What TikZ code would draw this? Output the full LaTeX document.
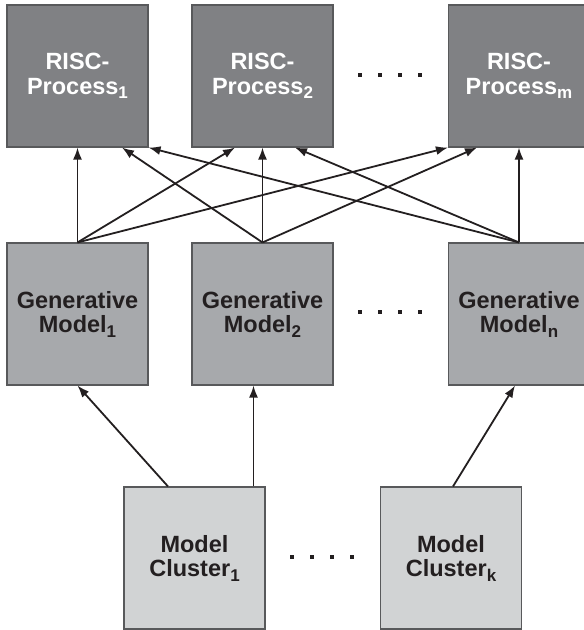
\documentclass[tikz,border=0pt]{standalone}
\usepackage{fontspec}
\setmainfont{Liberation Sans}
\usetikzlibrary{arrows.meta,calc}
\definecolor{riscfill}{HTML}{808184}
\definecolor{genfill}{HTML}{A7A9AC}
\definecolor{clufill}{HTML}{D1D3D4}
\definecolor{boxline}{HTML}{58595B}
\definecolor{ink}{HTML}{231F20}
\newcommand\sbs[1]{\raisebox{-4.5pt}{\fontsize{17}{17}\selectfont #1}}
\tikzset{
  box/.style={draw=boxline, line width=1.1pt, minimum width=141pt, minimum height=142pt,
    inner sep=0pt, align=center, font=\fontsize{23.5}{24.5}\selectfont\bfseries},
  riscbox/.style={box, fill=riscfill, text=white},
  genbox/.style={box, fill=genfill, text=ink},
  clubox/.style={box, fill=clufill, text=ink},
  arr/.style={draw=ink, line width=1.8pt, -{Latex[length=12pt,width=9pt]}},
  dotsq/.style={fill=ink, minimum size=4pt, inner sep=0pt}
}
\begin{document}
\begin{tikzpicture}[x=1pt,y=-1pt]
\useasboundingbox (0,0) rectangle (584,630);
\clip (0,0) rectangle (584,630);
\fill[white] (0,0) rectangle (584,630);
% top row
\node[riscbox] (r1) at (77.5,76) {RISC-\\Process\sbs{1}};
\node[riscbox] (r2) at (262.5,76) {RISC-\\Process\sbs{2}};
\node[riscbox] (rm) at (519,76) {RISC-\\Process\sbs{m}};
% middle row
\node[genbox] (g1) at (77.5,314) {Generative\\Model\sbs{1}};
\node[genbox] (g2) at (262.5,314) {Generative\\Model\sbs{2}};
\node[genbox] (gn) at (519,314) {Generative\\Model\sbs{n}};
% bottom row
\node[clubox] (c1) at (194.5,558) {Model\\Cluster\sbs{1}};
\node[clubox] (ck) at (451,558) {Model\\Cluster\sbs{k}};
% dots
\foreach \i/\x in {1/360,2/380,3/400,4/420}{
  \node[dotsq] (dt\i) at (\x,75) {};
  \node[dotsq] (dm\i) at (\x,312) {};
}
\foreach \i/\x in {1/292,2/312,3/332,4/352}{
  \node[dotsq] (db\i) at (\x,557) {};
}
% arrows generative -> RISC
\draw[arr] (g1.north) -- (r1.south);
\draw[arr] (g1.north) -- ($(r2.south)+(-27.5,0)$);
\draw[arr] (g1.north) -- (rm.south west);
\draw[arr] (g2.north) -- ($(r1.south)+(44.5,0)$);
\draw[arr] (g2.north) -- (r2.south);
\draw[arr] (g2.north) -- ($(rm.south)+(-42,0)$);
\draw[arr] (gn.north) -- (r1.south east);
\draw[arr] (gn.north) -- ($(r2.south)+(32.5,0)$);
\draw[arr] (gn.north) -- (rm.south);
% arrows cluster -> generative
\draw[arr] ($(c1.north)+(-26.5,0)$) -- (g1.south);
\draw[arr] ($(c1.north)+(59,0)$) -- ($(g2.south)+(-9,0)$);
\draw[arr] ($(ck.north)+(2,0)$) -- ($(gn.south)+(-4,0)$);
\end{tikzpicture}
\end{document}
